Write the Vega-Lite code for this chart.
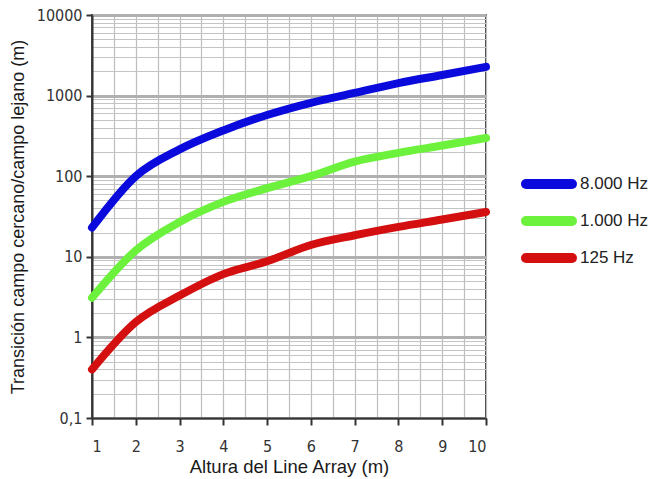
{
  "$schema": "https://vega.github.io/schema/vega-lite/v6.json",
  "width": 394,
  "height": 403,
  "autosize": {"type": "none"},
  "padding": {"left": 92, "top": 15, "right": 166, "bottom": 61},
  "background": "white",
  "config": {
    "view": {"stroke": "#444", "strokeWidth": 2},
    "font": "Liberation Sans"
  },
  "data": {
    "values": [
      {"h": 1, "v": 23, "s": "8.000 Hz"},
      {"h": 2, "v": 100, "s": "8.000 Hz"},
      {"h": 3, "v": 215, "s": "8.000 Hz"},
      {"h": 4, "v": 370, "s": "8.000 Hz"},
      {"h": 5, "v": 575, "s": "8.000 Hz"},
      {"h": 6, "v": 815, "s": "8.000 Hz"},
      {"h": 7, "v": 1080, "s": "8.000 Hz"},
      {"h": 8, "v": 1430, "s": "8.000 Hz"},
      {"h": 9, "v": 1800, "s": "8.000 Hz"},
      {"h": 10, "v": 2270, "s": "8.000 Hz"},
      {"h": 1, "v": 3.1, "s": "1.000 Hz"},
      {"h": 2, "v": 12, "s": "1.000 Hz"},
      {"h": 3, "v": 27, "s": "1.000 Hz"},
      {"h": 4, "v": 48, "s": "1.000 Hz"},
      {"h": 5, "v": 71, "s": "1.000 Hz"},
      {"h": 6, "v": 100, "s": "1.000 Hz"},
      {"h": 7, "v": 152, "s": "1.000 Hz"},
      {"h": 8, "v": 195, "s": "1.000 Hz"},
      {"h": 9, "v": 240, "s": "1.000 Hz"},
      {"h": 10, "v": 298, "s": "1.000 Hz"},
      {"h": 1, "v": 0.4, "s": "125 Hz"},
      {"h": 2, "v": 1.55, "s": "125 Hz"},
      {"h": 3, "v": 3.3, "s": "125 Hz"},
      {"h": 4, "v": 6.1, "s": "125 Hz"},
      {"h": 5, "v": 8.8, "s": "125 Hz"},
      {"h": 6, "v": 14, "s": "125 Hz"},
      {"h": 7, "v": 18.5, "s": "125 Hz"},
      {"h": 8, "v": 23.5, "s": "125 Hz"},
      {"h": 9, "v": 29, "s": "125 Hz"},
      {"h": 10, "v": 36, "s": "125 Hz"}
    ]
  },
  "mark": {"type": "line", "strokeWidth": 8, "interpolate": "monotone", "strokeCap": "round"},
  "encoding": {
    "x": {
      "field": "h", "type": "quantitative",
      "scale": {"domain": [1, 10], "nice": false, "zero": false},
      "axis": {
        "title": "Altura del Line Array (m)",
        "titleFont": "Liberation Sans", "titleFontSize": 18.5, "titleFontWeight": "normal", "titleColor": "#1a1a1a",
        "titlePadding": 3,
        "values": [1, 1.5, 2, 2.5, 3, 3.5, 4, 4.5, 5, 5.5, 6, 6.5, 7, 7.5, 8, 8.5, 9, 9.5, 10],
        "labelExpr": "datum.value % 1 == 0 ? format(datum.value, 'd') : ''",
        "labelFont": "DejaVu Sans Condensed, DejaVu Sans", "labelFontSize": 16, "labelColor": "#333", "labelPadding": 13,
        "labelOverlap": false,
        "tickSize": 7, "tickWidth": 2, "tickColor": "#333",
        "tickOpacity": {"condition": {"test": "datum.value % 1 == 0", "value": 1}, "value": 0},
        "domainColor": "#333", "domainWidth": 2,
        "grid": true, "gridColor": "#bdbdbd", "gridWidth": 1.2
      }
    },
    "y": {
      "field": "v", "type": "quantitative",
      "scale": {"type": "log", "domain": [0.1, 10000], "nice": false},
      "axis": {
        "title": "Transición campo cercano/campo lejano (m)",
        "titleFont": "Liberation Sans", "titleFontSize": 18, "titleFontWeight": "normal", "titleColor": "#1a1a1a",
        "titlePadding": 9,
        "values": [0.1, 0.2, 0.3, 0.4, 0.5, 0.6, 0.7, 0.8, 0.9, 1, 2, 3, 4, 5, 6, 7, 8, 9, 10, 20, 30, 40, 50, 60, 70, 80, 90, 100, 200, 300, 400, 500, 600, 700, 800, 900, 1000, 2000, 3000, 4000, 5000, 6000, 7000, 8000, 9000, 10000],
        "labelExpr": "indexof([0.1,1,10,100,1000,10000], datum.value) >= 0 ? replace(format(datum.value, ''), '.', ',') : ''",
        "labelFont": "DejaVu Sans Condensed, DejaVu Sans", "labelFontSize": 16, "labelColor": "#333", "labelPadding": 4,
        "labelOverlap": false,
        "tickSize": 6, "tickWidth": 2, "tickColor": "#333",
        "tickOpacity": {"condition": {"test": "indexof([0.1,1,10,100,1000,10000], datum.value) >= 0", "value": 1}, "value": 0},
        "domainColor": "#333", "domainWidth": 2,
        "grid": true,
        "gridColor": {"condition": {"test": "indexof([0.1,1,10,100,1000,10000], datum.value) >= 0", "value": "#b0b0b0"}, "value": "#c4c4c4"},
        "gridWidth": {"condition": {"test": "indexof([0.1,1,10,100,1000,10000], datum.value) >= 0", "value": 3}, "value": 1.2}
      }
    },
    "color": {
      "field": "s", "type": "nominal",
      "sort": ["8.000 Hz", "1.000 Hz", "125 Hz"],
      "scale": {"domain": ["8.000 Hz", "1.000 Hz", "125 Hz"], "range": ["#0a0adc", "#6cf23c", "#d40f0f"]},
      "legend": {
        "title": null,
        "orient": "none",
        "legendX": 440,
        "legendY": 152,
        "symbolType": "M-2,0H2",
        "symbolSize": 530,
        "symbolStrokeWidth": 10,
        "labelFont": "Liberation Sans",
        "labelFontSize": 17,
        "labelColor": "#222",
        "labelOffset": 14,
        "rowPadding": -21,
        "encode": {"symbols": {"update": {"strokeCap": {"value": "round"}}}}
      }
    }
  }
}
